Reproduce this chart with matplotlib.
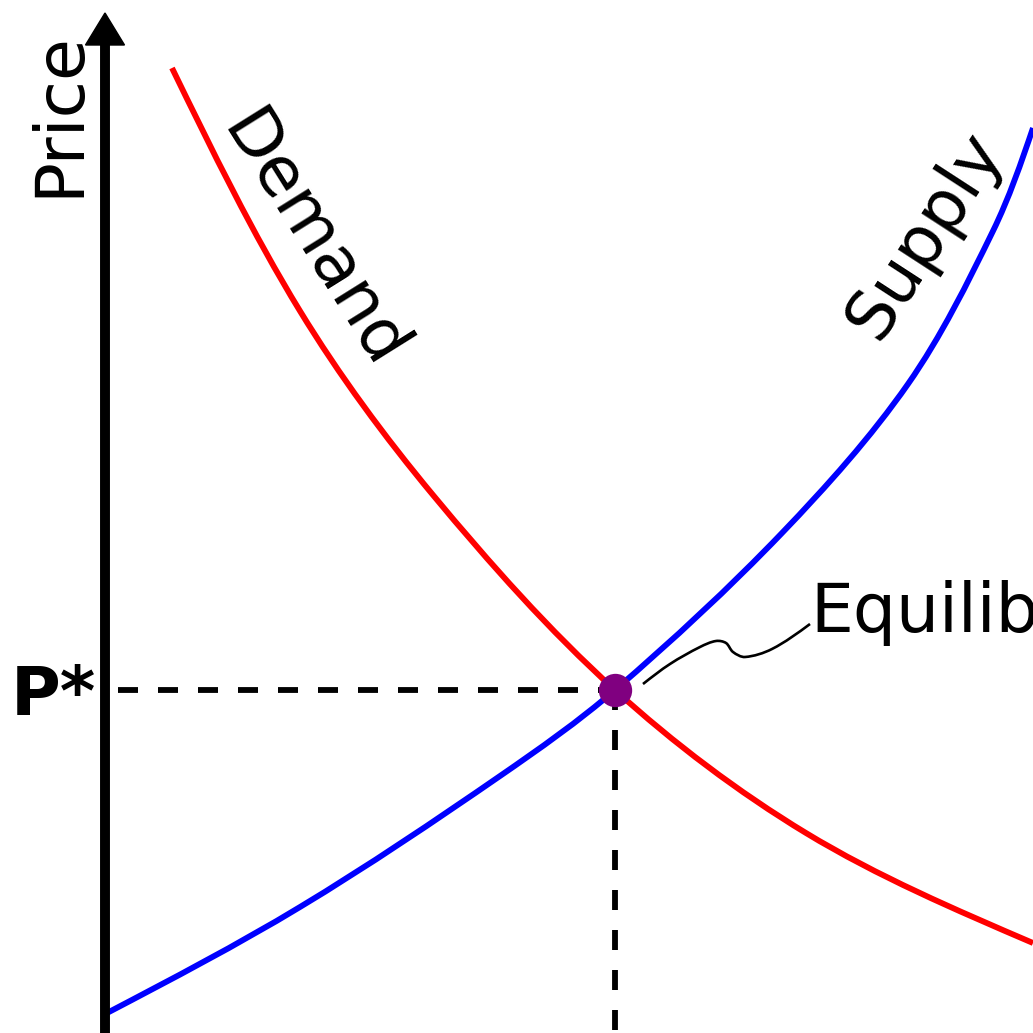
import matplotlib
matplotlib.use("Agg")
import numpy as np
import matplotlib.pyplot as plt
from matplotlib.path import Path
from matplotlib.patches import PathPatch

plt.rcParams['font.family'] = ['DejaVu Sans']
plt.rcParams['lines.scale_dashes'] = False

# ---- data (quantity, price) ----
demand_q = [0.67, 1.95, 3.28, 5.10, 7.01, 9.28]
demand_p = [9.65, 7.22, 5.38, 3.43, 2.00, 0.90]

supply_q = [0.02, 1.95, 3.95, 5.10, 6.77, 8.03, 8.88, 9.28]
supply_p = [0.20, 1.26, 2.57, 3.43, 5.00, 6.49, 8.02, 9.05]

eq_q = 5.10
eq_p = 3.43

labels = {"price": "Price", "demand": "Demand", "supply": "Supply",
          "pstar": "P*", "equilibrium": "Equilibrium"}

# leader line (squiggle) from the dot to the "Equilibrium" label
lead_q = [5.38, 5.65, 5.95, 6.11, 6.21, 6.28, 6.40, 6.67, 7.05]
lead_p = [3.49, 3.69, 3.86, 3.92, 3.90, 3.81, 3.76, 3.84, 4.09]


def smooth_path(xs, ys):
    """Smooth cubic Bezier path passing through the given points."""
    P = np.column_stack([xs, ys]).astype(float)
    d = np.hypot(*np.diff(P, axis=0).T)
    n = len(P)
    T = np.zeros_like(P)
    for i in range(1, n - 1):
        T[i] = (P[i + 1] - P[i - 1]) / (d[i - 1] + d[i])
    # natural-like end tangents (avoid straight end segments)
    T[0] = (3 * (P[1] - P[0]) / d[0] - T[1]) / 2
    T[-1] = (3 * (P[-1] - P[-2]) / d[-1] - T[-2]) / 2
    verts = [P[0]]
    codes = [Path.MOVETO]
    for i in range(n - 1):
        verts += [P[i] + T[i] * d[i] / 3, P[i + 1] - T[i + 1] * d[i] / 3, P[i + 1]]
        codes += [Path.CURVE4] * 3
    return Path(verts, codes)


fig = plt.figure(figsize=(10.33, 10.33), dpi=100)
ax = fig.add_axes([0, 0, 1, 1])
ax.set_xlim(-1.05, 9.28)
ax.set_ylim(0, 10.33)
ax.axis('off')

FS = 49

# price axis with arrow
ax.arrow(0, -0.2, 0, 10.40, width=0.085, head_width=0.39, head_length=0.32,
         length_includes_head=True, color='black', zorder=3)
ax.text(-0.27, 9.19, labels["price"], rotation=90, rotation_mode='anchor',
        ha='center', va='baseline', fontsize=FS)

# curves
ax.add_patch(PathPatch(smooth_path(demand_q, demand_p), fill=False,
                       edgecolor='#ff0000', lw=4.2, capstyle='butt', zorder=2))
ax.add_patch(PathPatch(smooth_path(supply_q, supply_p), fill=False,
                       edgecolor='#0000ff', lw=4.2, capstyle='butt', zorder=2))

# dashed guides
ax.plot([0.13, eq_q], [eq_p, eq_p], color='black', lw=4.2, dashes=(14.4, 14.4),
        dash_capstyle='butt', zorder=1)
ax.plot([eq_q, eq_q], [eq_p, -0.1], color='black', lw=4.2, dashes=(14.4, 14.4),
        dash_capstyle='butt', zorder=1)

# equilibrium dot
ax.plot([eq_q], [eq_p], 'o', ms=24, color='#800080', mec='#800080', mew=0, zorder=4)

# labels
ax.text(-0.09, eq_p - 0.25, labels["pstar"], ha='right', va='baseline',
        fontsize=FS, fontweight='bold')
ax.text(1.92, 7.82, labels["demand"], rotation=-58, rotation_mode='anchor',
        ha='center', va='baseline', fontsize=FS)
ax.text(8.36, 7.88, labels["supply"], rotation=57, rotation_mode='anchor',
        ha='center', va='baseline', fontsize=FS)
ax.text(7.05, 4.01, labels["equilibrium"], ha='left', va='baseline', fontsize=FS)

ax.add_patch(PathPatch(smooth_path(lead_q, lead_p), fill=False,
                       edgecolor='black', lw=1.9, zorder=3))

fig.savefig('out.png', dpi=100, facecolor='white')
